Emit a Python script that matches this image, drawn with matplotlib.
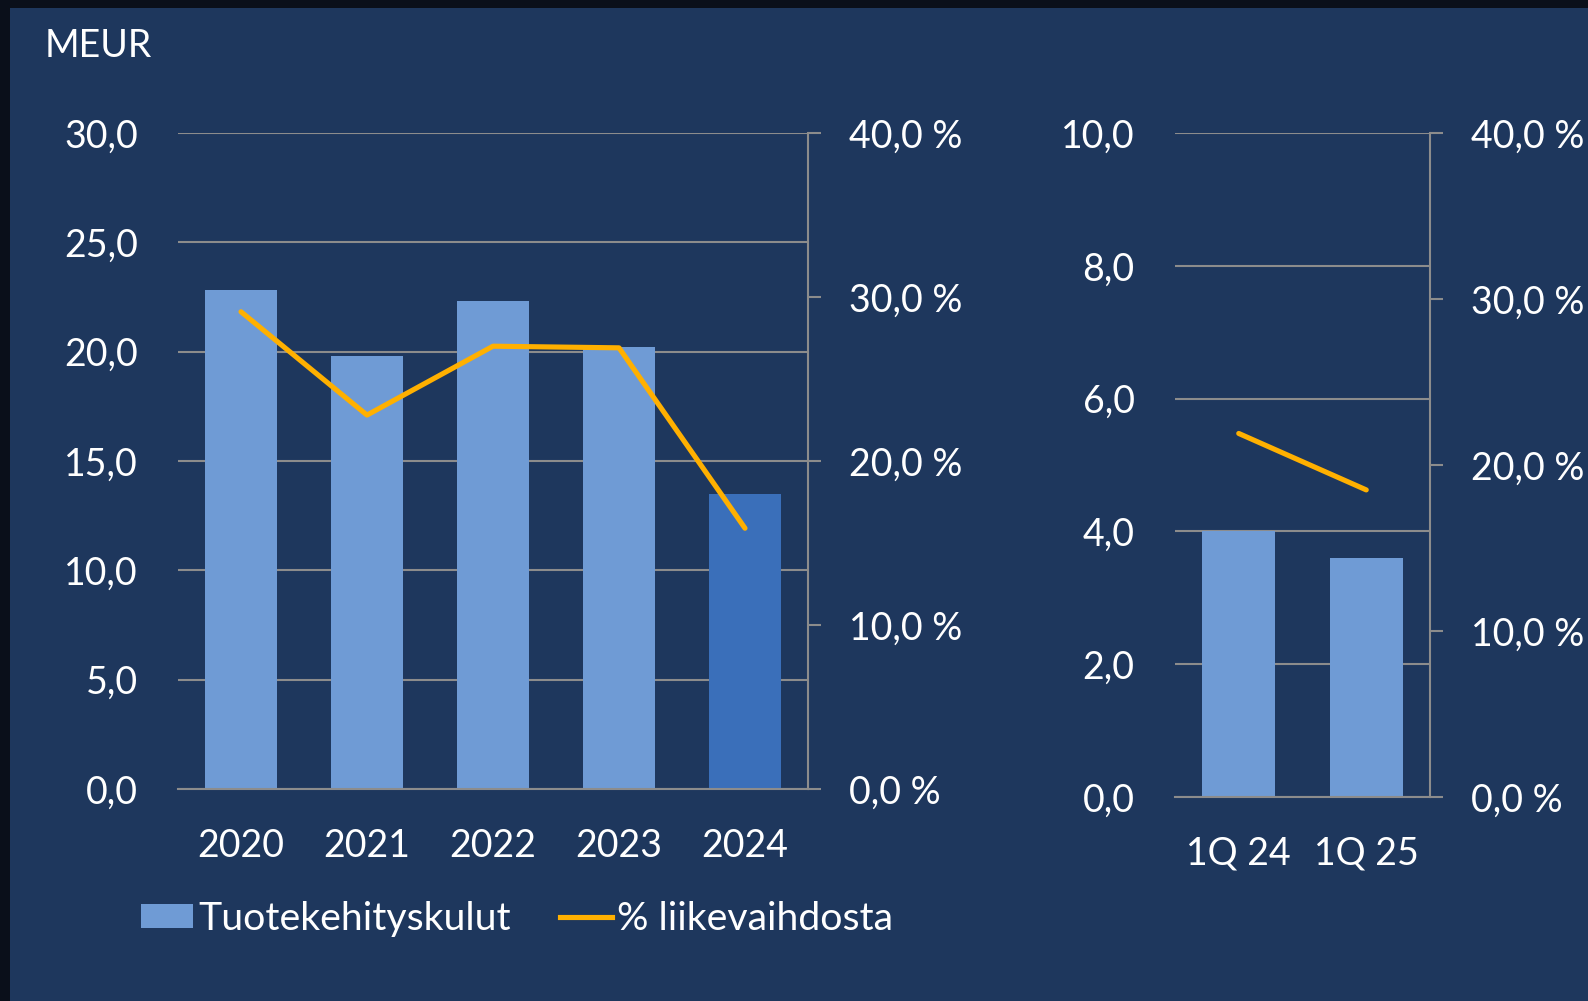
import matplotlib.pyplot as plt
import matplotlib
from matplotlib.patches import Patch, Rectangle
from matplotlib.lines import Line2D

# data
years = ['2020', '2021', '2022', '2023', '2024']
kulut = [22.8, 19.8, 22.3, 20.2, 13.5]          # MEUR
osuus = [29.1, 22.8, 27.0, 26.9, 15.9]          # % liikevaihdosta
quarters = ['1Q 24', '1Q 25']
q_kulut = [4.0, 3.6]
q_osuus = [21.9, 18.5]

BG = '#1e375d'
BAR = '#6f9bd5'
BAR_DARK = '#3a6fba'
LINE = '#ffb000'
GRID = '#8c8c8c'
FS = 27

plt.rcParams['font.family'] = ['Lato', 'DejaVu Sans']
plt.rcParams['text.color'] = 'white'

fig = plt.figure(figsize=(15.88, 10.01), dpi=100)
fig.patch.set_facecolor('#0a0f1a')
fig.patches.append(Rectangle((10/1588, 0), 1, 1-8/1001, transform=fig.transFigure,
                             facecolor=BG, edgecolor='none', zorder=-10))


def fmt1(v, suffix=''):
    return ('%.1f' % v).replace('.', ',') + suffix


def make_chart(rect, cats, vals, pct, ymax, ystep, colors):
    ax = fig.add_axes(rect)
    ax.set_facecolor('none')
    x = range(len(cats))
    ax.bar(x, vals, width=0.57, color=colors, zorder=2)
    ax.set_xlim(-0.5, len(cats) - 0.5)
    ax.set_ylim(0, ymax)
    ticks = [i * ystep for i in range(int(round(ymax / ystep)) + 1)]
    ax.set_yticks(ticks)
    ax.set_yticklabels([fmt1(t) for t in ticks])
    ax.set_xticks(list(x))
    ax.set_xticklabels(cats)
    ax.yaxis.grid(True, color=GRID, lw=1.5)
    ax.set_axisbelow(True)
    for s in ['left', 'top', 'right']:
        ax.spines[s].set_visible(False)
    ax.spines['bottom'].set_color(GRID)
    ax.spines['bottom'].set_linewidth(1.5)
    ax.tick_params(axis='y', length=0, pad=29, labelsize=FS, colors='white')
    ax.tick_params(axis='x', length=0, pad=28, labelsize=FS, colors='white')

    ax2 = ax.twinx()
    ax2.plot(list(x), pct, color=LINE, lw=3.7, solid_capstyle='round',
             solid_joinstyle='round', zorder=3)
    ax2.set_ylim(0, 40)
    pt = [0, 10, 20, 30, 40]
    ax2.set_yticks(pt)
    ax2.set_yticklabels([fmt1(t, ' %') for t in pt])
    for s in ['left', 'top', 'bottom']:
        ax2.spines[s].set_visible(False)
    ax2.spines['right'].set_color(GRID)
    ax2.spines['right'].set_linewidth(1.5)
    ax2.tick_params(axis='y', direction='out', length=9.4, width=1.5, color=GRID,
                    pad=20, labelsize=FS, labelcolor='white')
    return ax, ax2


cols = [BAR] * 4 + [BAR_DARK]
ax, ax2 = make_chart([178/1588, 1-789/1001, 630/1588, 656/1001],
                     years, kulut, osuus, 30, 5, cols)
bx, bx2 = make_chart([1175/1588, 1-797/1001, 255/1588, 664/1001],
                     quarters, q_kulut, q_osuus, 10, 2, [BAR, BAR])

fig.text(45/1588, 1-46/1001, 'MEUR', fontsize=FS, color='white', ha='left', va='center')

handles = [Patch(facecolor=BAR, edgecolor='none'),
           Line2D([0], [0], color=LINE, lw=3.7)]
fig.legend(handles, ['Tuotekehityskulut', '% liikevaihdosta'],
           loc='center left', bbox_to_anchor=(141/1588, 1-919/1001), ncol=2,
           frameon=False, fontsize=28.3, labelcolor='white', borderpad=0,
           borderaxespad=0, handlelength=1.33, handleheight=0.58,
           handletextpad=0.12, columnspacing=1.25)

fig.savefig('out.png', dpi=100, facecolor=fig.get_facecolor())
